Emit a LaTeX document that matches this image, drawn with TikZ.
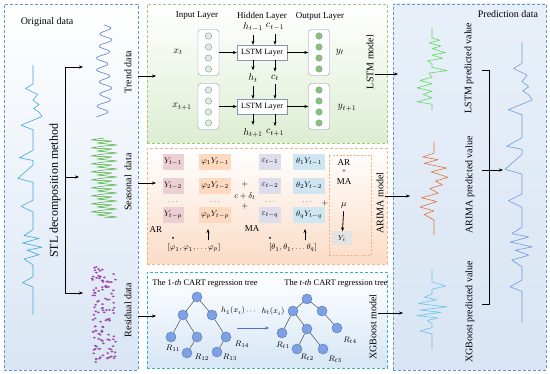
\documentclass[tikz,border=0pt]{standalone}
\usepackage{fontspec}
\setmainfont{Liberation Serif}
\usetikzlibrary{arrows.meta}

\definecolor{panelblue}{HTML}{5B9BD5}
\definecolor{panelgreen}{HTML}{9DCB7A}
\definecolor{panelorange}{HTML}{F4B183}
\definecolor{panelcyan}{HTML}{2FB0E6}
\definecolor{tintblue}{HTML}{D9E5F4}
\definecolor{tintgreen}{HTML}{DDEDD2}
\definecolor{tintorange}{HTML}{FBDCC6}
\definecolor{tintcyan}{HTML}{D6E6F5}
\definecolor{layergray}{HTML}{8497B0}
\definecolor{cellin}{HTML}{DCEFD4}
\definecolor{cellout}{HTML}{86C56E}
\definecolor{arfill}{HTML}{EBCFD3}
\definecolor{phifill}{HTML}{FCD9BF}
\definecolor{epsfill}{HTML}{DEDDEB}
\definecolor{thetafill}{HTML}{CDE6F2}
\definecolor{ytfill}{HTML}{E3E3E3}
\definecolor{leaffill}{HTML}{7FA0E2}
\definecolor{leafedge}{HTML}{4E73C0}
\definecolor{sigorig}{HTML}{3EA9E0}
\definecolor{sigtrend}{HTML}{5C80C4}
\definecolor{sigseas}{HTML}{3DAE2B}
\definecolor{sigres}{HTML}{9C4DA8}
\definecolor{siglstm}{HTML}{5EDB5E}
\definecolor{sigarima}{HTML}{E4733A}
\definecolor{sigxgb}{HTML}{6CC5EA}
\definecolor{sigpred}{HTML}{6C9CDB}

\tikzset{
  panel/.style={draw, dash pattern=on 3pt off 2pt, line width=0.7pt, inner sep=0pt},
  layerbox/.style={draw=layergray, rounded corners=3pt, fill=white, minimum width=21pt, minimum height=46pt, inner sep=0pt},
  cell/.style={circle, draw=layergray, line width=0.4pt, minimum size=6.5pt, inner sep=0pt},
  lstmbox/.style={draw=layergray, fill=white, minimum width=50pt, minimum height=15pt, inner sep=0pt, font=\footnotesize},
  term/.style={minimum height=16pt, inner sep=0pt, font=\footnotesize},
  leaf/.style={circle, fill=leaffill, draw=leafedge, line width=0.4pt, minimum size=10pt, inner sep=0pt},
  vlabel/.style={rotate=90, inner sep=1pt},
  signal/.style={line width=0.6pt, line join=round},
}

\newcommand{\obspath}{plot coordinates {(0,0) (0,0.076) (-0.5,0.094) (0.3,0.118) (0,0.141) (0.4,0.159) (0.04,0.174) (0.4,0.188) (0.6,0.206) (-0.8,0.241) (0,0.259) (0,0.341) (-0.9,0.371) (0,0.382) (0,0.4) (-1,0.453) (0,0.47) (0,0.541) (-0.8,0.565) (0,0.588) (0,0.659) (-0.6,0.682) (0.4,0.694) (-0.7,0.712) (0.6,0.729) (-0.4,0.741) (0.4,0.759) (-0.6,0.776) (0,0.8) (0,0.847) (-0.7,0.871) (0,0.888) (0,1)}}

\begin{document}
\begin{tikzpicture}[x=1pt, y=-1pt, >={Stealth[length=4pt,width=3pt]}]
\useasboundingbox[fill=white] (0,0) rectangle (550,374);

\node[panel, draw=panelblue, top color=white, bottom color=tintblue, minimum width=134pt, minimum height=366pt] (orig) at (71,187) {};
\node[panel, draw=panelgreen, top color=white, bottom color=tintgreen, minimum width=240pt, minimum height=139pt] (trend) at (267,73.5) {};
\node[panel, draw=panelorange, top color=white, bottom color=tintorange, minimum width=240pt, minimum height=116pt] (season) at (267,206) {};
\node[panel, draw=panelcyan, top color=white, bottom color=tintcyan, minimum width=240pt, minimum height=96pt] (resid) at (267,320) {};
\node[panel, draw=panelblue, top color=white!40!tintblue, bottom color=tintblue, minimum width=153pt, minimum height=366pt] (pred) at (469.5,187) {};

\node (origlab) at (47,22) {Original data};
\draw[signal, sigorig, shift={(33,65)}, xscale=15, yscale=250] \obspath;
\node[vlabel, font=\large] (stl) at (55,191) {STL decomposition method};
\coordinate (stltop) at (65,67);
\coordinate (stlmid) at (65,177);
\coordinate (stlbot) at (65,293);
\coordinate (trendsig) at (83,67);
\coordinate (seassig) at (79,177);
\coordinate (ressig) at (83,293);
\draw[<->] (trendsig) -- (stltop) -- (stlbot) -- (ressig);
\draw[->] (stlmid) -- (seassig);

\draw[signal, sigtrend] plot[smooth, domain=0:92, samples=100] ({104+6*sin(30*\x)+2*sin(7*\x)}, {25+\x});
\draw[signal, sigseas, line width=0.5pt] (104,138) \foreach \k in {0,...,9} { -- (91,140+8*\k) -- (112,141+8*\k) -- (97,143+8*\k) -- (117,145+8*\k) -- (104,146+8*\k)};
\pgfmathsetseed{7}
\foreach \i in {1,...,120} \fill[sigres] (92+24*rnd, 266+96*rnd) ellipse (1.5pt and 1pt);

\node[vlabel] (trendlab) at (128,72) {Trend data};
\node[vlabel] (seaslab) at (128,182) {Seasonal\ \ data};
\node[vlabel] (reslab) at (128,310) {Residual data};

\coordinate (trendin) at (156,76);
\coordinate (seasin) at (156,183);
\coordinate (resin) at (156,316);
\draw[->] (orig.east |- trendin) -- (trendin);
\draw[->] (orig.east |- seasin) -- (seasin);
\draw[->] (orig.east |- resin) -- (resin);

\node[font=\small] (inlab) at (197,16) {Input Layer};
\node[font=\small] (hidlab) at (262,16) {Hidden Layer};
\node[font=\small] (outlab) at (320,16) {Output Layer};
\node[layerbox] (in1) at (208.5,52.5) {};
\node[layerbox] (in2) at (208.5,106.5) {};
\node[layerbox] (out1) at (319,52.5) {};
\node[layerbox] (out2) at (319,106.5) {};
\foreach \yy [count=\k] in {36,47,58,69} {
  \node[cell, fill=cellin] (ia\k) at (208.5,\yy) {};
  \node[cell, fill=cellout] (oa\k) at (319,\yy) {};
}
\foreach \yy [count=\k] in {90,101,112,123} {
  \node[cell, fill=cellin] (ib\k) at (208.5,\yy) {};
  \node[cell, fill=cellout] (ob\k) at (319,\yy) {};
}
\node[lstmbox] (lstm1) at (262,52.5) {LSTM Layer};
\node[lstmbox] (lstm2) at (262,106.5) {LSTM Layer};
\draw[->] (in1) -- (lstm1);
\draw[->] (lstm1) -- (out1);
\draw[->] (in2) -- (lstm2);
\draw[->] (lstm2) -- (out2);
\node (xt) at (178,52) {$x_t$};
\node (xt1) at (182,107) {$x_{t+1}$};
\node (yt) at (340,52) {$y_t$};
\node (yt1) at (347,108) {$y_{t+1}$};
\node (hprev) at (253,27) {$h_{t-1}$};
\node (cprev) at (275,27) {$c_{t-1}$};
\node (hcur) at (253,78) {$h_t$};
\node (ccur) at (275,78) {$c_t$};
\node (hnext) at (253,133) {$h_{t+1}$};
\node (cnext) at (275,133) {$c_{t+1}$};
\foreach \a/\b/\c in {hprev/cprev/lstm1, hcur/ccur/lstm2} {
  \draw[->] (\a) -- (\a |- \c.north);
  \draw[->] (\b) -- (\b |- \c.north);
}
\foreach \a/\b/\c in {hcur/ccur/lstm1, hnext/cnext/lstm2} {
  \draw[->] (\c.south -| \a) -- (\a);
  \draw[->] (\c.south -| \b) -- (\b);
}
\node[vlabel] (lstmlab) at (370,62) {LSTM model};
\coordinate (lstmout) at (398,74);
\draw[->] (lstmlab.south |- lstmout) -- (lstmout);

\foreach \s/\q/\yy in {1/1/162, 2/2/186, p/q/215} {
  \node[term, fill=arfill, minimum width=21pt] (ar\s) at (173,\yy) {$Y_{t-\s}$};
  \node[term, fill=phifill, minimum width=32pt] (phi\s) at (215,\yy) {$\varphi_\s Y_{t-\s}$};
  \node[term, fill=epsfill, minimum width=22pt] (eps\q) at (270,\yy) {$\varepsilon_{t-\q}$};
  \node[term, fill=thetafill, minimum width=32pt] (theta\q) at (309,\yy) {$\theta_\q Y_{t-\q}$};
}
\foreach \n/\xx in {ardots/173, phidots/215, epsdots/270, thetadots/307}
  \node[font=\scriptsize] (\n) at (\xx,202) {$\dots$};
\node[font=\footnotesize] (plusa) at (245,185) {$+$};
\node[font=\footnotesize] (cdelta) at (245,196) {$c+\delta_t$};
\node[font=\footnotesize] (plusb) at (245,207) {$+$};
\node[font=\footnotesize] (plusc) at (325,204) {$+$};
\node[font=\small] (arlab) at (156,230) {AR};
\node[font=\small] (malab) at (252,229) {MA};
\node[circle, fill, inner sep=0pt, minimum size=2pt] (ardot) at (173,238) {};
\node[circle, fill, inner sep=0pt, minimum size=2pt] (madot) at (270,238) {};
\node[font=\footnotesize] (phivec) at (194,248) {$[\varphi_1,\varphi_1,\ldots\varphi_p]$};
\node[font=\footnotesize] (thetavec) at (293,248) {$[\theta_1,\theta_1,\ldots\theta_q]$};
\coordinate (phitip) at (208,229);
\coordinate (thetatip) at (305,229);
\draw[->, thick] (phivec.north -| phitip) -- (phitip);
\draw[->, thick] (thetavec.north -| thetatip) -- (thetatip);
\node[draw=panelorange, dash pattern=on 2pt off 1.5pt, minimum width=42pt, minimum height=100pt, inner sep=0pt] (armabox) at (350,205) {};
\node[font=\small] (artxt) at (344,163) {AR};
\node[font=\scriptsize] (armaplus) at (344,172) {+};
\node[font=\small] (matxt) at (344,182) {MA};
\node[font=\small] (mu) at (344,205) {$\mu$};
\node[fill=ytfill, minimum width=20pt, minimum height=14pt, inner sep=0pt, font=\scriptsize] (ytbox) at (342,238.5) {$Y_t$};
\draw[->, thick] (mu) -- (ytbox);
\node[vlabel] (arimalab) at (380,203) {ARIMA model};
\coordinate (arimaout) at (410,196);
\draw[->] (arimalab.south |- arimaout) -- (arimaout);

\node[font=\fontsize{8.5}{10}\selectfont] (treelaba) at (205,283) {The 1-\textit{th} CART regression tree};
\node[font=\fontsize{8.5}{10}\selectfont] (treelabb) at (336,283) {The \textit{t-th} CART regression tree};
\foreach \n/\xx/\yy in {a0/197/297, a1/183/315, a2/212/315, a3/171/337, a4/197/337, a5/187/353, a6/226/337, a7/217/352,
                        b0/307/299, b1/293/311, b2/322/311, b3/282/333, b4/307/329, b5/297/349, b6/323/349, b7/337/328}
  \node[leaf] (\n) at (\xx,\yy) {};
\foreach \u/\v in {a0/a1, a0/a2, a1/a3, a1/a4, a4/a5, a2/a6, a6/a7, b0/b1, b0/b2, b1/b3, b1/b4, b4/b5, b4/b6, b2/b7}
  \draw[black!70, line width=0.5pt] (\u) -- (\v);
\foreach \n/\t/\xx/\yy in {ra/11/173/348, rb/12/202/357, rc/13/230/357, rd/14/242/344, re/t1/283/345, rf/t2/307/357, rg/t3/335/359, rh/t4/350/340}
  \node[font=\footnotesize] (\n) at (\xx,\yy) {$R_{\t}$};
\node[font=\footnotesize] (hfirst) at (233,311) {$h_1(x_i)$};
\node[font=\footnotesize] (hdots) at (251,312) {$\cdots$};
\node[font=\footnotesize] (hlast) at (273,312) {$h_t(x_i)$};
\coordinate (treego) at (237,328);
\coordinate (treeend) at (269,328);
\draw[->, leafedge] (treego) -- (treeend);
\node[vlabel] (xgblab) at (373,327) {XGBoost model};
\coordinate (xgbout) at (403,313);
\draw[->] (xgblab.south |- xgbout) -- (xgbout);

\node (predlab) at (508,14) {Prediction data};
\draw[signal, siglstm, shift={(432,28)}, xscale=15, yscale=82] plot coordinates {(0,0) (0,0.12) (0.5,0.15) (-0.2,0.18) (0.6,0.22) (0,0.25) (0.9,0.3) (0,0.33) (0.7,0.37) (-0.3,0.4) (0,0.44) (0,0.48) (1,0.52) (-0.2,0.55) (0,0.6) (-0.8,0.64) (0,0.68) (-1,0.73) (0,0.77) (-0.6,0.81) (0,0.85) (-1,0.9) (0,0.93) (0,1)};
\draw[signal, sigarima, shift={(434,142)}, xscale=14, yscale=93] plot coordinates {(0,0) (0,0.12) (-0.8,0.16) (0.3,0.19) (-0.7,0.23) (0.9,0.28) (-0.2,0.32) (1,0.38) (0.1,0.42) (0.6,0.46) (-0.3,0.5) (0.3,0.55) (-0.9,0.6) (0.2,0.64) (-1,0.7) (0,0.74) (-0.7,0.78) (0,0.84) (0,1)};
\draw[signal, sigxgb, shift={(432,270)}, xscale=15, yscale=80] plot coordinates {(0,0) (0,0.15) (0.9,0.2) (0,0.24) (0,0.3) (-0.5,0.34) (0.3,0.37) (-0.9,0.42) (1,0.46) (-0.8,0.5) (0.6,0.53) (-1,0.57) (0.4,0.6) (-0.3,0.63) (0,0.67) (0,0.72) (-0.8,0.76) (0,0.8) (0,1)};
\node[vlabel] (lstmpred) at (469,68) {LSTM predicted value};
\node[vlabel] (arimapred) at (470,185) {ARIMA predicted value};
\node[vlabel] (xgbpred) at (470,312) {XGBoost predicted value};
\coordinate (brtop) at (489,70);
\coordinate (brbot) at (489,304);
\coordinate (finalin) at (503,170);
\draw (brtop -| 482,0) -- (brtop) -- (brbot) -- (brbot -| 482,0);
\draw[->] (finalin -| 482,0) -- (finalin);
\draw[signal, sigpred, shift={(522,42)}, xscale=17, yscale=281] \obspath;
\end{tikzpicture}
\end{document}
